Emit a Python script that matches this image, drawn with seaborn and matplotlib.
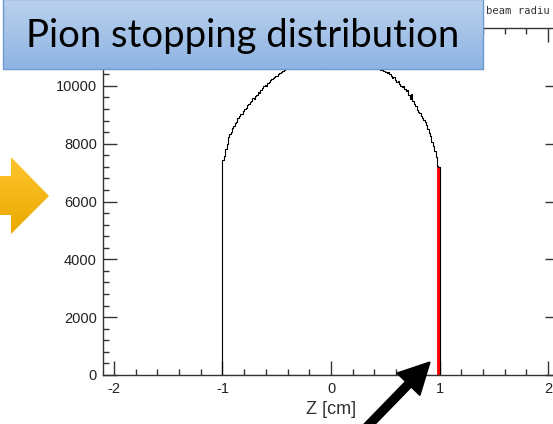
import numpy as np
import pandas as pd
import matplotlib
matplotlib.use("Agg")
import matplotlib.pyplot as plt
import seaborn as sns
from matplotlib.ticker import MultipleLocator
from matplotlib.patches import Polygon, Rectangle, FancyArrow
from matplotlib.colors import LinearSegmentedColormap

# pion stopping positions along Z, bins of 0.0125 cm between -1 and 1 cm
z_lo, z_hi, n_bins = -1.0, 1.0, 160
counts = [
    7420, 7560, 7800, 8000, 8230, 8330, 8420, 8540, 8600, 8700,
    8760, 8880, 8940, 9040, 9020, 9140, 9200, 9230, 9330, 9360,
    9440, 9490, 9570, 9560, 9660, 9700, 9790, 9760, 9870, 9920,
    9980, 10020, 10010, 10100, 10140, 10190, 10220, 10260, 10300, 10330,
    10350, 10400, 10430, 10480, 10520, 10540, 10580, 10610, 10640, 10670,
    10700, 10730, 10760, 10780, 10800, 10830, 10850, 10870, 10890, 10910,
    10930, 10950, 10960, 10980, 10990, 11000, 11020, 11030, 11040, 11050,
    11060, 11060, 11070, 11080, 11080, 11090, 11090, 11090, 11100, 11100,
    11100, 11090, 11090, 11080, 11080, 11070, 11060, 11060, 11050, 11040,
    11030, 11020, 11000, 10990, 10970, 10960, 10940, 10920, 10900, 10880,
    10860, 10840, 10820, 10800, 10780, 10750, 10730, 10710, 10690, 10670,
    10650, 10630, 10610, 10600, 10580, 10570, 10550, 10560, 10520, 10500,
    10490, 10450, 10470, 10400, 10330, 10280, 10300, 10200, 10120, 10150,
    10050, 10000, 9960, 9990, 9880, 9820, 9850, 9700, 9560, 9720,
    9460, 9380, 9300, 9150, 9110, 9060, 8960, 8900, 8820, 8760,
    8660, 8520, 8380, 8250, 8060, 7920, 7760, 7550, 7240, 7200,
]
highlight_bins = [158, 159]  # last bins before the target edge, shown in red

x_ticks = [-2, -1, 0, 1, 2]
y_ticks = [0, 2000, 4000, 6000, 8000, 10000]
title_text = "Pion stopping distribution"
corner_text = "beam radiu"

edges = np.linspace(z_lo, z_hi, n_bins + 1)
df = pd.DataFrame({'z': (edges[:-1] + edges[1:]) / 2, 'n': counts})
red = df.iloc[highlight_bins]

sns.set_style("white")
plt.rcParams['font.family'] = ['Liberation Sans', 'DejaVu Sans']
plt.rcParams['axes.unicode_minus'] = False

W, H = 553, 424
fig = plt.figure(figsize=(W / 100, H / 100), dpi=100)
ax = fig.add_axes([103 / W, 1 - 375 / H, (559 - 103) / W, (375 - 28) / H])

# red highlighted bins first, outline on top
sns.histplot(data=red, x='z', weights='n', bins=len(highlight_bins),
             binrange=(edges[highlight_bins[0]], edges[highlight_bins[-1] + 1]),
             element='bars', color='red', alpha=1, edgecolor='red', linewidth=0.6, ax=ax)
sns.histplot(data=df, x='z', weights='n', bins=n_bins, binrange=(z_lo, z_hi),
             element='step', fill=True, color='black', facecolor='none',
             edgecolor='black', linewidth=0.8, ax=ax)

ax.set_xlim(-2.1, 2.1)
ax.set_ylim(0, 12000)
ax.set_xticks(x_ticks)
ax.set_yticks(y_ticks)
ax.xaxis.set_minor_locator(MultipleLocator(0.2))
ax.yaxis.set_minor_locator(MultipleLocator(400))
ax.tick_params(which='both', direction='in', bottom=True, left=True, top=True, right=True,
               colors='#333333', labelcolor='#222222', labelsize=10.5, width=1)
ax.tick_params(which='major', length=10)
ax.tick_params(which='minor', length=4)
ax.tick_params(axis='x', pad=5)
ax.tick_params(axis='y', pad=4.5)
for s in ax.spines.values():
    s.set_color('#333333')
    s.set_linewidth(1)
ax.set_ylabel('')
ax.set_xlabel('Z [cm]', fontsize=13, color='#333333', labelpad=4)

# slide decorations on top, in pixel coordinates
deco = fig.add_axes([0, 0, 1, 1], zorder=5)
deco.patch.set_alpha(0)
grad = np.linspace(0, 1, 64)[:, None]

box_cmap = LinearSegmentedColormap.from_list('box', ['#bad1ed', '#8fb4e3'])
deco.imshow(grad, extent=(3, 483, 69, -1), cmap=box_cmap, aspect='auto')
deco.add_patch(Rectangle((3, -1), 480, 70, fill=False, edgecolor='#6d99d0', lw=1))
deco.text(26, 47, title_text, fontsize=27.5, family=['Lato', 'DejaVu Sans'],
          ha='left', va='baseline', color='black')

arrow_pts = [(0, 176), (11, 176), (11, 157), (49, 196), (11, 234), (11, 215), (0, 215)]
poly = Polygon(arrow_pts, closed=True, facecolor='none', edgecolor='none')
deco.add_patch(poly)
orange_cmap = LinearSegmentedColormap.from_list('orange', ['#ffc52e', '#eaa900'])
im = deco.imshow(grad, extent=(0, 50, 235, 156), cmap=orange_cmap, aspect='auto')
im.set_clip_path(poly)

deco.add_patch(FancyArrow(360, 434, 70, -72, width=8, head_width=32, head_length=31,
                          length_includes_head=True, color='black'))

deco.text(486, 14, corner_text, family='DejaVu Sans Mono', fontsize=7.6,
          ha='left', va='baseline', color='#333333')

deco.set_xlim(0, W)
deco.set_ylim(H, 0)
deco.axis('off')

fig.savefig('out.png', dpi=100)
